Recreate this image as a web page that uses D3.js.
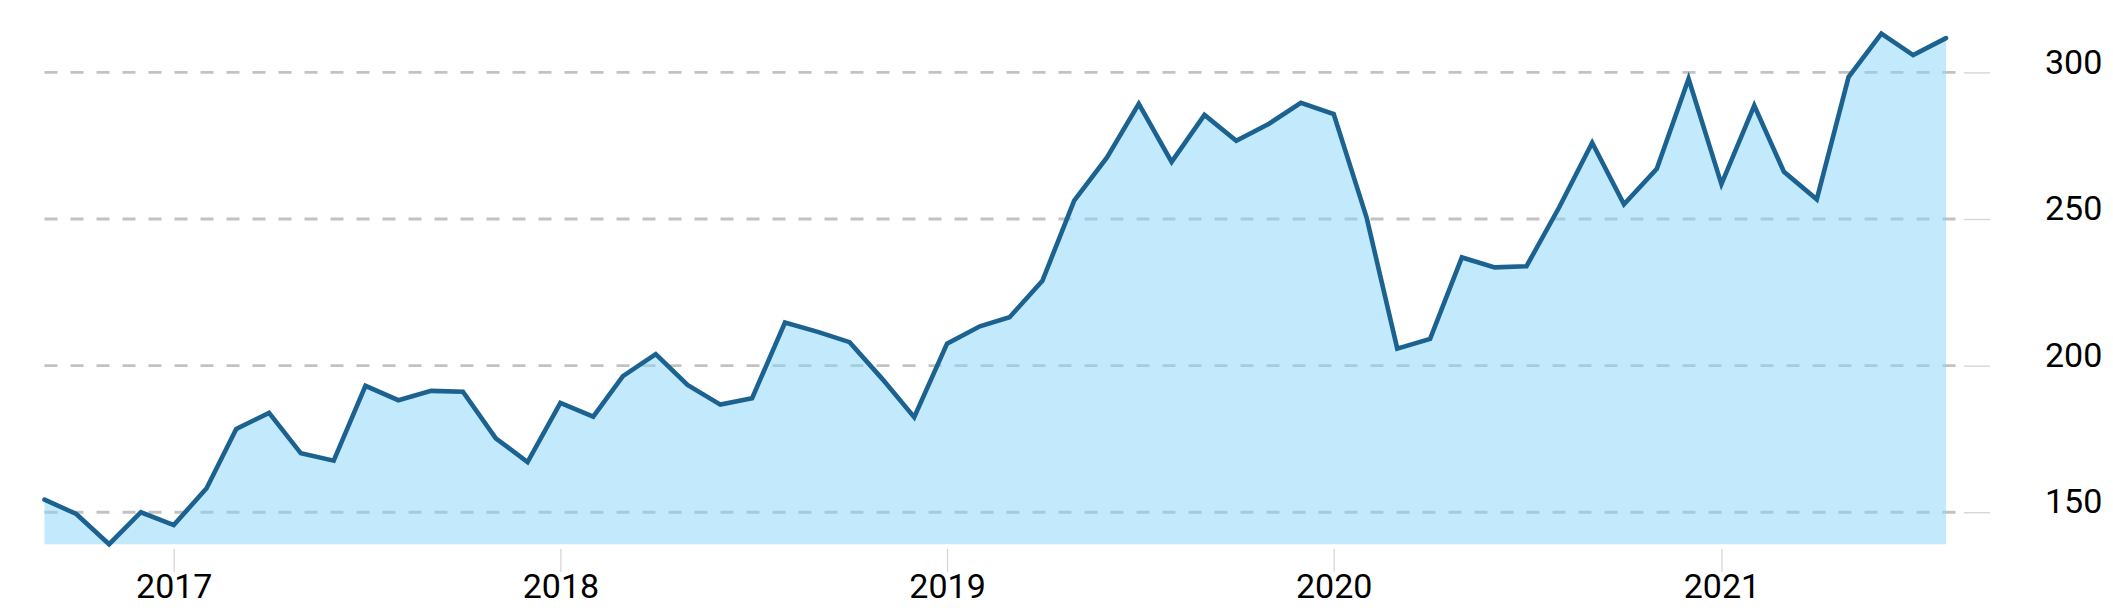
<!DOCTYPE html>
<html>
<head>
<meta charset="utf-8">
<script src="https://cdn.jsdelivr.net/npm/d3@7"></script>
<style>
  html, body { margin: 0; padding: 0; background: #fff; overflow: hidden; }
  svg { display: block; }
  text { font-family: Roboto, "Noto Sans", sans-serif; }
</style>
</head>
<body>
<svg id="chart" width="2113" height="608"></svg>
<script>
// ---- data ----
const months = [
  "2016-09","2016-10","2016-11","2016-12",
  "2017-01","2017-02","2017-03","2017-04","2017-05","2017-06","2017-07","2017-08","2017-09","2017-10","2017-11","2017-12",
  "2018-01","2018-02","2018-03","2018-04","2018-05","2018-06","2018-07","2018-08","2018-09","2018-10","2018-11","2018-12",
  "2019-01","2019-02","2019-03","2019-04","2019-05","2019-06","2019-07","2019-08","2019-09","2019-10","2019-11","2019-12",
  "2020-01","2020-02","2020-03","2020-04","2020-05","2020-06","2020-07","2020-08","2020-09","2020-10","2020-11","2020-12",
  "2021-01","2021-02","2021-03","2021-04","2021-05","2021-06","2021-07","2021-08"
];
const values = [
  154.3, 149.4, 139.1, 150.0,
  145.6, 158.2, 178.4, 183.9, 170.1, 167.6, 193.1, 188.2, 191.4, 191.1, 175.2, 167.1,
  187.3, 182.6, 196.4, 203.9, 193.4, 186.7, 188.9, 214.7, 211.5, 208.0, 195.4, 182.4,
  207.5, 213.4, 216.5, 228.9, 256.3, 271.0, 289.3, 269.5, 285.5, 276.7, 282.5, 289.6,
  285.8, 250.6, 205.8, 209.1, 236.9, 233.5, 233.9, 254.1, 276.0, 255.0, 267.1, 297.8,
  261.9, 288.7, 266.1, 256.7, 298.4, 313.2, 305.9, 311.7
];
const yTickValues = [150, 200, 250, 300];
const xTickYears = ["2017", "2018", "2019", "2020", "2021"];

// ---- build ----
const parse = d3.utcParse("%Y-%m");
const data = months.map((m, i) => ({ date: parse(m), value: values[i] }));
const xTicks = xTickYears.map(y => d3.utcParse("%Y")(y));

const svg = d3.select("#chart");
const plotLeft = 44.5, plotRight = 1946, plotTop = 33.7, plotBottom = 544.2;

const x = d3.scaleUtc()
  .domain(d3.extent(data, d => d.date))
  .range([plotLeft, plotRight]);
const y = d3.scaleLinear()
  .domain(d3.extent(values))
  .range([plotBottom, plotTop]);

// gridlines (dashed)
svg.append("g").selectAll("line")
  .data(yTickValues).join("line")
  .attr("x1", plotLeft).attr("x2", 1956)
  .attr("y1", d => y(d)).attr("y2", d => y(d))
  .attr("stroke", "#c2c2c2")
  .attr("stroke-width", 2.8)
  .attr("stroke-dasharray", "13,13");

// y axis on right: short solid ticks + labels
const yAxis = svg.append("g").attr("transform", "translate(1964,0)")
  .call(d3.axisRight(y).tickValues(yTickValues).tickSize(26).tickPadding(0).tickFormat(d3.format("d")));
yAxis.select(".domain").remove();
yAxis.selectAll(".tick line").attr("stroke", "#d4d4d4").attr("stroke-width", 1.3);
yAxis.selectAll(".tick text")
  .attr("x", 81).attr("dy", "0.02em")
  .attr("text-anchor", "start")
  .attr("font-size", 34).attr("fill", "#000")
  .style("font-family", "Roboto, 'Noto Sans', sans-serif");

// area
const area = d3.area()
  .x(d => x(d.date))
  .y0(plotBottom)
  .y1(d => y(d.value));
svg.append("path")
  .datum(data)
  .attr("d", area)
  .attr("fill", "rgb(135,212,250)")
  .attr("fill-opacity", 0.5);

// line
const line = d3.line()
  .x(d => x(d.date))
  .y(d => y(d.value));
svg.append("path")
  .datum(data)
  .attr("d", line)
  .attr("fill", "none")
  .attr("stroke", "#1b6290")
  .attr("stroke-width", 4.6)
  .attr("stroke-linejoin", "miter")
  .attr("stroke-linecap", "round");

// x axis
const xAxis = svg.append("g").attr("transform", "translate(0,549)")
  .call(d3.axisBottom(x).tickValues(xTicks).tickSize(23).tickPadding(3).tickFormat(d3.utcFormat("%Y")));
xAxis.select(".domain").remove();
xAxis.selectAll(".tick line").attr("stroke", "#d4d4d4").attr("stroke-width", 1.2);
xAxis.selectAll(".tick text")
  .attr("y", 49).attr("dy", 0)
  .attr("font-size", 34).attr("fill", "#000")
  .style("font-family", "Roboto, 'Noto Sans', sans-serif");
</script>
</body>
</html>
